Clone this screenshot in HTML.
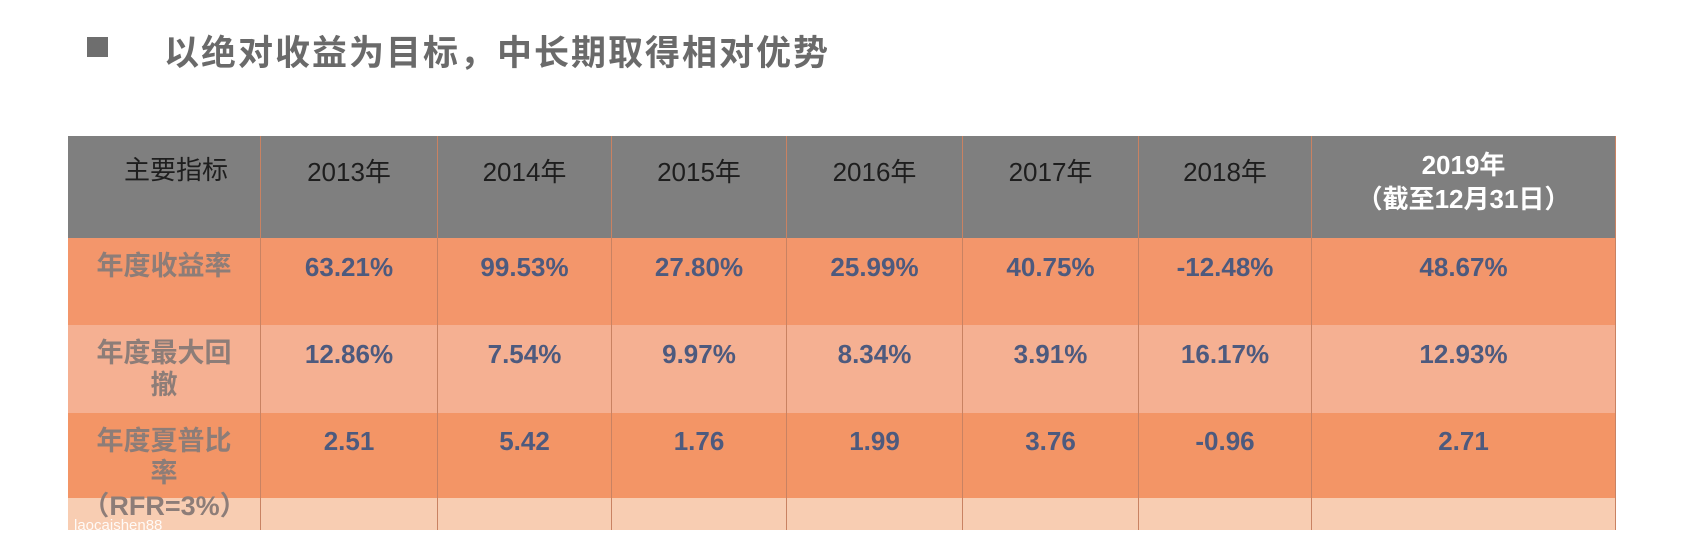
<!DOCTYPE html>
<html><head><meta charset="utf-8">
<style>
body{margin:0;width:1707px;height:549px;background:#fff;position:relative;overflow:hidden;font-family:"Liberation Sans","Noto Sans CJK SC",sans-serif}
.abs{position:absolute}
.cell{position:absolute;box-sizing:border-box;border-right:1px solid #c98262;text-align:center}
.hd{background:#7f7f7f;color:#1e1e1e;font-size:26px}
.v{color:#4d5a7e;font-weight:bold;font-size:26px}
.lab{color:#8d7d78;font-weight:bold;font-size:27px;line-height:32px}
</style></head><body>
<div class="abs" style="left:87px;top:37px;width:21px;height:20px;background:#6e6e6e"></div>
<div class="abs" style="left:164px;top:25px;font-size:35px;font-weight:bold;color:#6a6a6a;letter-spacing:2px">以绝对收益为目标，中长期取得相对优势</div>
<div id="tbl"></div>
<div class="abs" style="left:74px;top:517px;font-size:15px;color:#fff;opacity:.9">laocaishen88</div>
<script>
const years=["2013年","2014年","2015年","2016年","2017年","2018年","2019年"];
const annualReturn=["63.21%","99.53%","27.80%","25.99%","40.75%","-12.48%","48.67%"];
const maxDrawdown=["12.86%","7.54%","9.97%","8.34%","3.91%","16.17%","12.93%"];
const sharpe=["2.51","5.42","1.76","1.99","3.76","-0.96","2.71"];
const colX=[68,261,438,612,787,963,1139,1312,1616];
const rows=[{top:136,h:102,bg:"#7f7f7f"},{top:238,h:87,bg:"#f3966b"},{top:325,h:88,bg:"#f5b092"},{top:413,h:85,bg:"#f39566"},{top:498,h:32,bg:"#f8cdb2"}];
const t=document.getElementById('tbl');
function add(row,col,html,cls,name,pad){
  const d=document.createElement('div');
  d.className='cell '+cls;
  d.style.left=colX[col]+'px';d.style.width=(colX[col+1]-colX[col])+'px';
  d.style.top=rows[row].top+'px';d.style.height=rows[row].h+'px';
  d.style.background=rows[row].bg;d.style.paddingTop=pad+'px';
  d.innerHTML=html;
  
  
  t.appendChild(d);
}
add(0,0,'<span style="position:relative;left:12px">主要指标</span>','hd','header-metric',14);
years.forEach((y,i)=>{
  const h=i===6?'<div style="color:#fff;font-weight:bold;line-height:34px">2019年<br>（截至12月31日）</div>':y;
  add(0,i+1,h,'hd','header-'+y.slice(0,4),i===6?12:16);
});
add(1,0,'年度收益率','lab','label-annual-return',12);
add(2,0,'年度最大回<br>撤','lab','label-max-drawdown',12);
add(3,0,'年度夏普比<br>率','lab','label-sharpe',12);
add(4,0,'','lab','label-rfr',0);
annualReturn.forEach((v,i)=>add(1,i+1,v,'v','return-'+years[i].slice(0,4),14));
maxDrawdown.forEach((v,i)=>add(2,i+1,v,'v','drawdown-'+years[i].slice(0,4),14));
sharpe.forEach((v,i)=>add(3,i+1,v,'v','sharpe-'+years[i].slice(0,4),13));
for(let i=1;i<=7;i++)add(4,i,'','v','footer-cell-'+i,0);
const r=document.createElement('div');
r.className='abs lab';
r.style.left='68px';r.style.width='193px';r.style.top='490px';r.style.textAlign='center';
r.textContent='（RFR=3%）';


t.appendChild(r);
</script>
</body></html>
